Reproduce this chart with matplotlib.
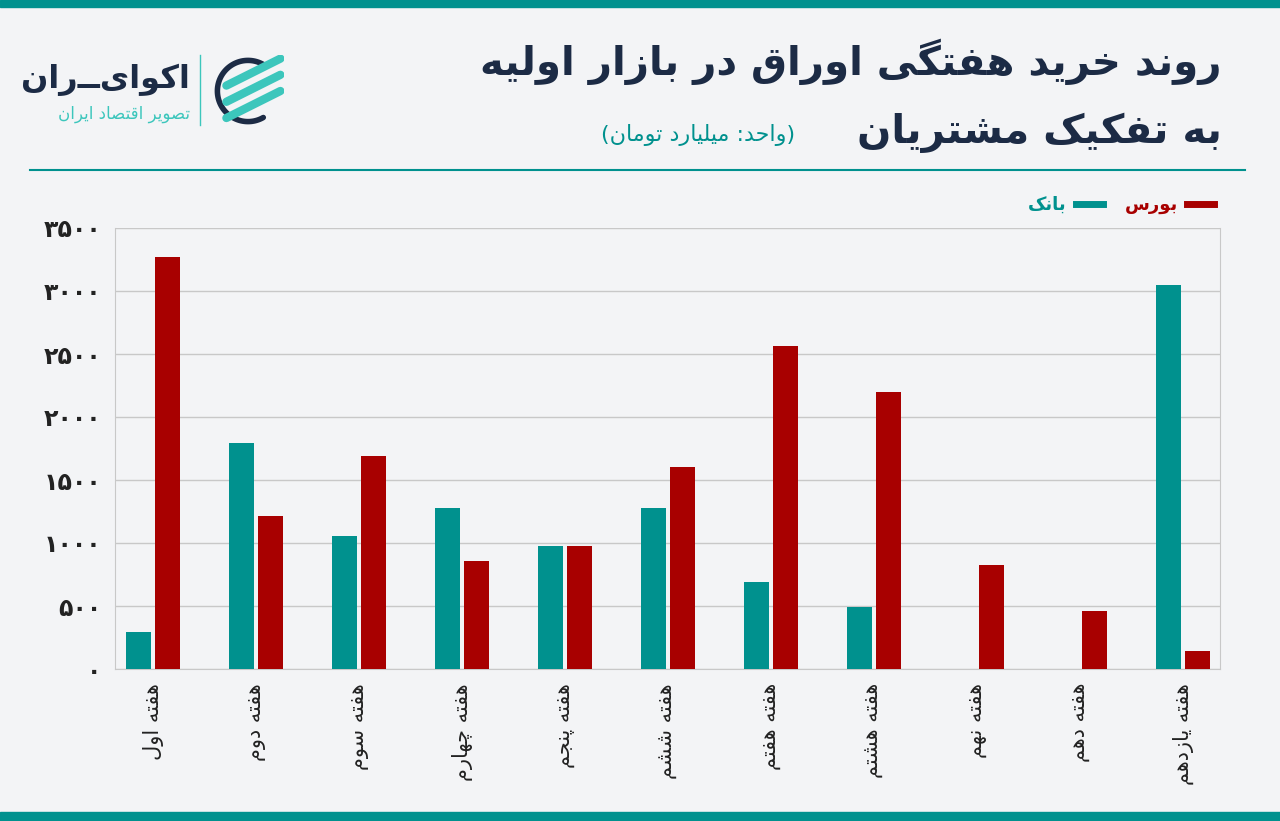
import matplotlib.pyplot as plt
import matplotlib.patches as mpatches
import numpy as np

weeks = ["هفته اول", "هفته دوم", "هفته سوم", "هفته چهارم", "هفته پنجم", "هفته ششم",
         "هفته هفتم", "هفته هشتم", "هفته نهم", "هفته دهم", "هفته یازدهم"]
bank = [290, 1790, 1055, 1278, 976, 1278, 690, 492, 0, 0, 3048]
bourse = [3270, 1214, 1690, 857, 976, 1603, 2563, 2198, 825, 460, 143]
yticks = [0, 500, 1000, 1500, 2000, 2500, 3000, 3500]

TEAL = "#00918e"
RED = "#a80000"
NAVY = "#1c2b45"

# minimal Persian shaping (matplotlib has no bidi / joining support)
FORMS = {
    "ا": (0xFE8D, 0xFE8E, None, None), "آ": (0xFE81, 0xFE82, None, None),
    "ب": (0xFE8F, 0xFE90, 0xFE91, 0xFE92), "پ": (0xFB56, 0xFB57, 0xFB58, 0xFB59),
    "ت": (0xFE95, 0xFE96, 0xFE97, 0xFE98), "ث": (0xFE99, 0xFE9A, 0xFE9B, 0xFE9C),
    "ج": (0xFE9D, 0xFE9E, 0xFE9F, 0xFEA0), "چ": (0xFB7A, 0xFB7B, 0xFB7C, 0xFB7D),
    "ح": (0xFEA1, 0xFEA2, 0xFEA3, 0xFEA4), "خ": (0xFEA5, 0xFEA6, 0xFEA7, 0xFEA8),
    "د": (0xFEA9, 0xFEAA, None, None), "ذ": (0xFEAB, 0xFEAC, None, None),
    "ر": (0xFEAD, 0xFEAE, None, None), "ز": (0xFEAF, 0xFEB0, None, None),
    "ژ": (0xFB8A, 0xFB8B, None, None), "س": (0xFEB1, 0xFEB2, 0xFEB3, 0xFEB4),
    "ش": (0xFEB5, 0xFEB6, 0xFEB7, 0xFEB8), "ص": (0xFEB9, 0xFEBA, 0xFEBB, 0xFEBC),
    "ض": (0xFEBD, 0xFEBE, 0xFEBF, 0xFEC0), "ط": (0xFEC1, 0xFEC2, 0xFEC3, 0xFEC4),
    "ظ": (0xFEC5, 0xFEC6, 0xFEC7, 0xFEC8), "ع": (0xFEC9, 0xFECA, 0xFECB, 0xFECC),
    "غ": (0xFECD, 0xFECE, 0xFECF, 0xFED0), "ف": (0xFED1, 0xFED2, 0xFED3, 0xFED4),
    "ق": (0xFED5, 0xFED6, 0xFED7, 0xFED8), "ک": (0xFB8E, 0xFB8F, 0xFB90, 0xFB91),
    "گ": (0xFB92, 0xFB93, 0xFB94, 0xFB95), "ل": (0xFEDD, 0xFEDE, 0xFEDF, 0xFEE0),
    "م": (0xFEE1, 0xFEE2, 0xFEE3, 0xFEE4), "ن": (0xFEE5, 0xFEE6, 0xFEE7, 0xFEE8),
    "ه": (0xFEE9, 0xFEEA, 0xFEEB, 0xFEEC), "و": (0xFEED, 0xFEEE, None, None),
    "ی": (0xFBFC, 0xFBFD, 0xFBFE, 0xFBFF),
}


def fa(text):
    out = []
    n = len(text)
    for i, ch in enumerate(text):
        if ch not in FORMS:
            out.append(ch)
            continue
        f = FORMS[ch]
        prev = text[i - 1] if i > 0 else ""
        nxt = text[i + 1] if i < n - 1 else ""
        join_prev = prev in FORMS and FORMS[prev][2] is not None
        join_next = f[2] is not None and nxt in FORMS
        if join_prev and join_next:
            code = f[3]
        elif join_prev:
            code = f[1]
        elif join_next:
            code = f[2]
        else:
            code = f[0]
        out.append(chr(code))
    s = "".join(reversed(out))
    return s.translate(str.maketrans("()", ")("))


def fa_digits(v):
    return str(v).translate(str.maketrans("0123456789", "۰۱۲۳۴۵۶۷۸۹"))


plt.rcParams["font.family"] = "DejaVu Sans"
fig = plt.figure(figsize=(12.8, 8.21), dpi=100, facecolor="#f3f4f6")

# frame bars and header rule
fig.patches.append(mpatches.Rectangle((0, 1 - 7 / 821), 1, 7 / 821, transform=fig.transFigure, color=TEAL))
fig.patches.append(mpatches.Rectangle((0, 0), 1, 9 / 821, transform=fig.transFigure, color=TEAL))
fig.add_artist(plt.Line2D([30 / 1280, 1245 / 1280], [1 - 170 / 821] * 2, color=TEAL, lw=1.5))

# titles
fig.text(1222 / 1280, 1 - 62 / 821, fa("روند خرید هفتگی اوراق در بازار اولیه"),
         ha="right", va="center", fontsize=29, fontweight="bold", color=NAVY)
fig.text(1222 / 1280, 1 - 133 / 821, fa("به تفکیک مشتریان"),
         ha="right", va="center", fontsize=29, fontweight="bold", color=NAVY)
fig.text(795 / 1280, 1 - 135 / 821, fa("(واحد: میلیارد تومان)"),
         ha="right", va="center", fontsize=16, color=TEAL)

# logo
fig.text(190 / 1280, 1 - 80 / 821, fa("اکوایــران"), ha="right", va="center",
         fontsize=23, fontweight="bold", color=NAVY)
fig.text(190 / 1280, 1 - 114 / 821, fa("تصویر اقتصاد ایران"), ha="right", va="center",
         fontsize=12, color="#3cc6bc")
fig.add_artist(plt.Line2D([200 / 1280] * 2, [1 - 55 / 821, 1 - 125 / 821], color="#3cc6bc", lw=1))
lax = fig.add_axes([212 / 1280, 1 - 127 / 821, 72 / 1280, 72 / 821])
lax.set_xlim(-1, 1)
lax.set_ylim(-1, 1)
lax.set_aspect("equal")
lax.axis("off")
t = np.linspace(np.radians(60), np.radians(300), 100)
lax.plot(0.85 * np.cos(t), 0.85 * np.sin(t), color=NAVY, lw=4, solid_capstyle="round")
for dy in (0.45, 0.0, -0.45):
    lax.plot([-0.6, 0.9], [dy - 0.3, dy + 0.45], color="#3cc6bc", lw=6, solid_capstyle="round")

# chart
ax = fig.add_axes([115 / 1280, 1 - 669 / 821, 1105 / 1280, 441 / 821])
ax.set_facecolor("#f3f4f6")
x = np.arange(len(weeks))
w = 0.245
ax.bar(x - 0.14, bank, width=w, color=TEAL, zorder=3)
ax.bar(x + 0.14, bourse, width=w, color=RED, zorder=3)
ax.set_xlim(-0.37, 10.36)
ax.set_ylim(0, 3500)
ax.set_yticks(yticks)
ax.set_yticklabels([fa_digits(v) for v in yticks], fontsize=17, fontweight="bold", color="#222")
ax.set_xticks(x)
ax.set_xticklabels([fa(s) for s in weeks], rotation=90, fontsize=15, color="#222")
ax.tick_params(length=0, pad=10)
ax.yaxis.grid(True, color="#c8c8c8", lw=1, zorder=0)
ax.spines["top"].set_visible(False)
for s in ("left", "right", "bottom"):
    ax.spines[s].set_color("#c8c8c8")

# legend: text left of its colour key, bank first
handles = [plt.Line2D([], [], color=TEAL, lw=5, label=fa("بانک")),
           plt.Line2D([], [], color=RED, lw=5, label=fa("بورس"))]
leg = fig.legend(handles=handles, loc="center right", bbox_to_anchor=(1230 / 1280, 1 - 205 / 821),
                 ncol=2, frameon=False, fontsize=13, handlelength=1.5, markerfirst=False,
                 columnspacing=1.2, handletextpad=0.5)
for txt, c in zip(leg.get_texts(), (TEAL, RED)):
    txt.set_color(c)
    txt.set_fontweight("bold")

fig.savefig("out.png", dpi=100, facecolor=fig.get_facecolor())
